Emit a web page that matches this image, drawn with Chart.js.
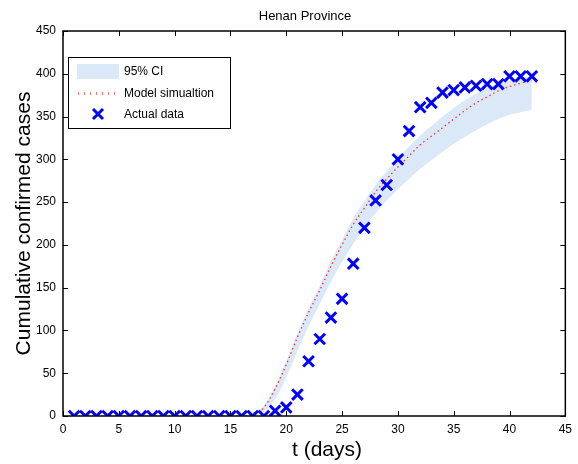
<!DOCTYPE html>
<html lang="en">
<head>
    <meta charset="UTF-8">
    <title>Henan Province</title>
    <script src="https://cdn.jsdelivr.net/npm/chart.js"></script>
    <style>
        html, body { margin: 0; padding: 0; background: #fff; }
        #wrap { width: 578px; height: 464px; }
    </style>
</head>
<body>
    <div id="wrap"><canvas id="chart" width="578" height="464"></canvas></div>

    <script>
        // Data
        const days = [1, 2, 3, 4, 5, 6, 7, 8, 9, 10, 11, 12, 13, 14, 15, 16, 17, 18, 19, 20, 21,
                      22, 23, 24, 25, 26, 27, 28, 29, 30, 31, 32, 33, 34, 35, 36, 37, 38, 39, 40, 41, 42];
        const actualCases = [0, 0, 0, 0, 0, 0, 0, 0, 0, 0, 0, 0, 0, 0, 0, 0, 0, 0, 6, 10, 25,
                             64, 90, 115, 137, 178, 220, 252, 270, 300, 333, 361, 366, 378, 381, 384, 386, 388, 388, 397, 397, 397];
        const modelCases = [0, 0, 0, 0, 0, 0, 0, 0, 0, 0, 0, 0, 0, 0, 0, 0, 3, 10, 32, 60, 92,
                            121, 147, 175, 200, 224, 243, 262, 277, 291, 304, 317, 327, 337, 347, 357, 366, 373, 380, 385, 389, 392];
        const ciUpper = [0, 0, 0, 0, 0, 0, 0, 0, 0, 0, 0, 0, 0, 0, 0, 0, 4, 12, 35, 64, 96,
                         126, 152, 181, 206, 231, 251, 270, 286, 301, 315, 328, 339, 350, 360, 369, 377, 383, 388, 392, 395, 397];
        const ciLower = [0, 0, 0, 0, 0, 0, 0, 0, 0, 0, 0, 0, 0, 0, 0, 0, 1, 5, 20, 45, 76,
                         105, 131, 157, 180, 201, 220, 237, 252, 265, 277, 289, 299, 309, 318, 326, 334, 341, 347, 352, 355, 358];
        const xTicks = [0, 5, 10, 15, 20, 25, 30, 35, 40, 45];
        const yTicks = [0, 50, 100, 150, 200, 250, 300, 350, 400, 450];

        const FONT = "'Liberation Sans', Arial, Helvetica, sans-serif";
        const bandColor = '#dbe8f8';
        const modelColor = '#ff3030';
        const dataColor = '#0000ff';

        const toXY = (ys) => days.map((d, i) => ({ x: d, y: ys[i] }));

        // Box, inward ticks, titles and legend drawn like the MATLAB figure
        const boxPlugin = {
            id: 'matlabBox',
            afterDraw(chart) {
                const { ctx, chartArea: a, scales } = chart;
                ctx.save();
                ctx.strokeStyle = '#000';
                ctx.lineWidth = 1;
                ctx.beginPath();
                xTicks.forEach(v => {
                    const px = Math.round(scales.x.getPixelForValue(v)) + 0.5;
                    ctx.moveTo(px, a.bottom); ctx.lineTo(px, a.bottom - 5);
                    ctx.moveTo(px, a.top); ctx.lineTo(px, a.top + 5);
                });
                yTicks.forEach(v => {
                    const py = Math.round(scales.y.getPixelForValue(v)) + 0.5;
                    ctx.moveTo(a.left, py); ctx.lineTo(a.left + 5, py);
                    ctx.moveTo(a.right, py); ctx.lineTo(a.right - 5, py);
                });
                ctx.stroke();
                ctx.lineWidth = 1.5;
                ctx.strokeRect(a.left, a.top, a.right - a.left, a.bottom - a.top);

                // titles (MATLAB places them a bit right of centre)
                ctx.fillStyle = '#000';
                ctx.textAlign = 'center';
                ctx.textBaseline = 'middle';
                ctx.font = '13px ' + FONT;
                ctx.fillText('Henan Province', 305, 16);
                ctx.font = '21px ' + FONT;
                ctx.fillText('t (days)', 327, 450);

                // legend
                const lx = a.left + 5, ly = a.top + 26, lw = 162, lh = 71;
                ctx.fillStyle = '#fff';
                ctx.fillRect(lx, ly, lw, lh);
                ctx.lineWidth = 1;
                ctx.strokeRect(lx + 0.5, ly + 0.5, lw, lh);
                ctx.font = '12px ' + FONT;
                ctx.textAlign = 'left';
                const rows = [ly + 14, ly + 36, ly + 57];
                // CI patch
                ctx.fillStyle = bandColor;
                ctx.fillRect(lx + 9, rows[0] - 7, 42, 15);
                // model dotted line (small vertical dashes)
                ctx.strokeStyle = 'rgba(255, 60, 60, 0.7)';
                ctx.lineWidth = 1;
                ctx.beginPath();
                for (let x = lx + 10; x <= lx + 46; x += 6) {
                    ctx.moveTo(x + 0.5, rows[1] - 1); ctx.lineTo(x + 0.5, rows[1] + 2);
                }
                ctx.stroke();
                // cross marker
                ctx.strokeStyle = dataColor;
                ctx.lineWidth = 3;
                const cx = lx + 30, cy = rows[2], r = 5;
                ctx.beginPath();
                ctx.moveTo(cx - r, cy - r); ctx.lineTo(cx + r, cy + r);
                ctx.moveTo(cx + r, cy - r); ctx.lineTo(cx - r, cy + r);
                ctx.stroke();
                ctx.fillStyle = '#000';
                const labels = chart.data.datasets.filter(d => d.legend).map(d => d.label);
                labels.forEach((t, i) => ctx.fillText(t, lx + 56, rows[i] + 1));
                ctx.restore();
            }
        };

        const ctx = document.getElementById('chart').getContext('2d');
        new Chart(ctx, {
            type: 'scatter',
            data: {
                datasets: [
                    {
                        label: '95% CI',
                        legend: true,
                        type: 'line',
                        data: toXY(ciUpper),
                        borderWidth: 0,
                        pointRadius: 0,
                        backgroundColor: bandColor,
                        fill: '+1',
                        cubicInterpolationMode: 'monotone',
                        order: 3
                    },
                    {
                        label: 'CI lower',
                        type: 'line',
                        data: toXY(ciLower),
                        borderWidth: 0,
                        pointRadius: 0,
                        fill: false,
                        cubicInterpolationMode: 'monotone',
                        order: 4
                    },
                    {
                        label: 'Model simualtion',
                        legend: true,
                        type: 'line',
                        data: toXY(modelCases),
                        borderColor: modelColor,
                        borderWidth: 1.3,
                        borderDash: [1.5, 3],
                        pointRadius: 0,
                        fill: false,
                        cubicInterpolationMode: 'monotone',
                        order: 1
                    },
                    {
                        label: 'Actual data',
                        legend: true,
                        data: toXY(actualCases),
                        pointStyle: 'crossRot',
                        pointRadius: 7.5,
                        borderColor: dataColor,
                        borderWidth: 3,
                        order: 0
                    }
                ]
            },
            options: {
                responsive: false,
                animation: false,
                layout: { padding: { left: 0, right: 10, top: 31, bottom: 0 } },
                plugins: {
                    legend: { display: false },
                    tooltip: { enabled: false },
                    title: { display: false }
                },
                scales: {
                    x: {
                        type: 'linear',
                        min: 0, max: 45,
                        grid: { display: false, drawTicks: false },
                        border: { display: false },
                        afterBuildTicks: (s) => { s.ticks = xTicks.map(v => ({ value: v })); },
                        afterFit: (s) => { s.height = 48; },
                        ticks: { color: '#000', padding: 6, maxRotation: 0, font: { family: FONT, size: 12 } }
                    },
                    y: {
                        min: 0, max: 450,
                        grid: { display: false, drawTicks: false },
                        border: { display: false },
                        afterBuildTicks: (s) => { s.ticks = yTicks.map(v => ({ value: v })); },
                        afterFit: (s) => { s.width = 63; },
                        ticks: { color: '#000', padding: 7, font: { family: FONT, size: 12 } },
                        title: {
                            display: true, text: 'Cumulative confirmed cases', color: '#000',
                            font: { family: FONT, size: 21 }, padding: { top: 12, bottom: 0 }
                        }
                    }
                }
            },
            plugins: [boxPlugin]
        });
    </script>
</body>
</html>
